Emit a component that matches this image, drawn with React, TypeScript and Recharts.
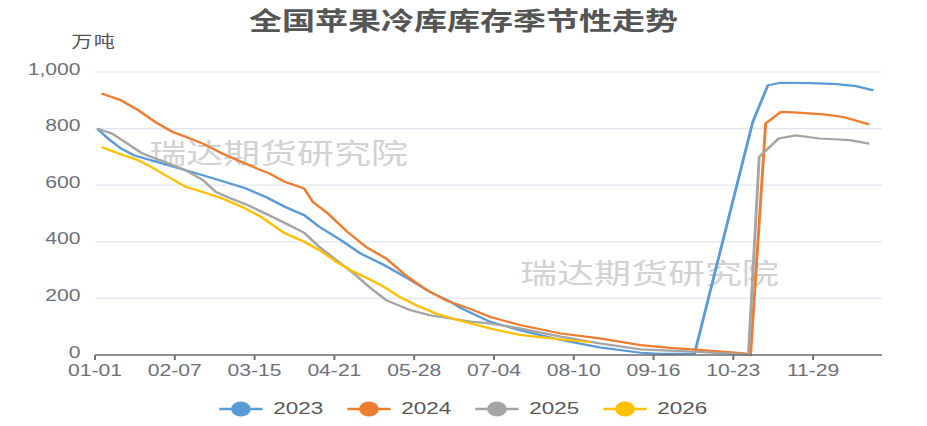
import { LineChart, Line, XAxis, YAxis, CartesianGrid } from "recharts";

// the reference image is stretched horizontally, so the chart is drawn narrow and scaled
const STRETCH = 1.32;
const W = 927 / STRETCH;
const H = 426;

const TICK_DAYS = [0, 37, 74, 111, 148, 185, 222, 259, 296, 333];
const TICK_LABELS = ["01-01", "02-07", "03-15", "04-21", "05-28", "07-04", "08-10", "09-16", "10-23", "11-29"];
const Y_TICKS = [0, 200, 400, 600, 800, 1000];

const DAYS_2023 = [1, 6, 12, 18, 26, 34, 42, 50, 60, 70, 79, 88, 97, 104, 114, 123, 134, 145, 155, 165, 169, 174, 183, 197, 216, 234, 253, 262, 278, 305, 312, 318, 332, 344, 353, 361];
const VALUES_2023 = [800, 765, 730, 706, 688, 671, 653, 635, 612, 588, 559, 524, 494, 453, 406, 359, 318, 271, 224, 188, 168, 150, 118, 88, 53, 27, 8, 4, 5, 823, 953, 962, 961, 957, 950, 935];

const DAYS_2024 = [3, 12, 20, 28, 36, 42, 50, 59, 68, 77, 81, 88, 97, 101, 108, 117, 126, 135, 145, 154, 163, 169, 174, 183, 197, 216, 234, 253, 268, 277, 301, 304, 311, 318, 324, 338, 347, 359];
const VALUES_2024 = [924, 900, 865, 823, 788, 771, 747, 712, 682, 653, 641, 612, 588, 541, 500, 435, 380, 341, 276, 229, 192, 176, 163, 135, 106, 76, 59, 35, 24, 20, 6, 1, 818, 859, 857, 850, 841, 815];

const DAYS_2025 = [1, 8, 15, 22, 28, 36, 42, 50, 56, 63, 71, 79, 89, 97, 104, 112, 120, 128, 135, 146, 155, 165, 169, 174, 183, 197, 216, 234, 253, 277, 301, 303, 308, 317, 325, 336, 350, 359];
const VALUES_2025 = [800, 782, 747, 712, 694, 671, 653, 618, 576, 553, 529, 500, 463, 432, 382, 335, 288, 235, 194, 159, 141, 129, 124, 118, 112, 94, 65, 41, 20, 12, 2, 0, 700, 765, 776, 765, 759, 747];

const DAYS_2026 = [3, 11, 20, 26, 34, 42, 50, 59, 68, 77, 88, 97, 104, 112, 120, 128, 134, 141, 149, 158, 168, 174, 183, 197, 216, 230];
const VALUES_2026 = [735, 712, 688, 665, 629, 594, 576, 553, 524, 488, 430, 400, 371, 329, 294, 265, 241, 206, 176, 147, 124, 112, 94, 71, 55, 45];

const SERIES = [
  { name: "2023", color: "#5B9BD5", days: DAYS_2023, values: VALUES_2023 },
  { name: "2024", color: "#ED7D31", days: DAYS_2024, values: VALUES_2024 },
  { name: "2025", color: "#A5A5A5", days: DAYS_2025, values: VALUES_2025 },
  { name: "2026", color: "#FFC000", days: DAYS_2026, values: VALUES_2026 },
];

const WATERMARK = "瑞达期货研究院";

const YTick = ({ x, y, payload }: any) => (
  <text x={x} y={y - 3} textAnchor="end" dominantBaseline="central" fill="#6e7079" fontSize={16}>
    {Number(payload.value).toLocaleString("en-US")}
  </text>
);

const watermarkStyle = {
  position: "absolute" as const,
  fontSize: 28,
  lineHeight: "34px",
  color: "#d2d2d2",
  fontFamily: "'Noto Sans CJK SC', sans-serif",
  whiteSpace: "nowrap" as const,
};

export default function App() {
  return (
    <div
      style={{
        position: "absolute",
        left: 0,
        top: 0,
        width: 927,
        height: H,
        overflow: "hidden",
        background: "#fff",
      }}
    >
      <div
        style={{
          position: "relative",
          width: W,
          height: H,
          transform: `scaleX(${STRETCH})`,
          transformOrigin: "0 0",
          fontFamily: "'Liberation Sans', Arial, 'Noto Sans CJK SC', sans-serif",
        }}
      >
        <div
          style={{
            position: "absolute",
            top: 4,
            left: 0,
            width: W,
            textAlign: "center",
            fontSize: 25,
            lineHeight: "30px",
            fontWeight: "bold",
            color: "#555",
            fontFamily: "'Noto Sans CJK SC', sans-serif",
          }}
        >
          全国苹果冷库库存季节性走势
        </div>
        <div
          style={{
            position: "absolute",
            top: 30,
            left: 54,
            fontSize: 16,
            lineHeight: "20px",
            color: "#555",
            letterSpacing: 1,
            fontFamily: "'Noto Sans CJK SC', sans-serif",
          }}
        >
          万吨
        </div>

        <div style={{ ...watermarkStyle, top: 135, left: 113 }}>{WATERMARK}</div>
        <div style={{ ...watermarkStyle, top: 255, left: 394 }}>{WATERMARK}</div>

        <div style={{ position: "absolute", left: 0, top: 0 }}>
          <LineChart width={W} height={H} margin={{ top: 72, right: 34, bottom: 41, left: 12 }}>
            <CartesianGrid vertical={false} stroke="#e0e6f1" strokeWidth={1.2} />
            <XAxis
              type="number"
              dataKey="day"
              domain={[0, 365]}
              ticks={TICK_DAYS}
              tickFormatter={(v) => TICK_LABELS[TICK_DAYS.indexOf(v)] ?? ""}
              height={30}
              stroke="#6e7079"
              strokeWidth={1.5}
              tick={{ fill: "#6e7079", fontSize: 16 }}
              tickSize={5}
              tickMargin={5}
              interval={0}
            />
            <YAxis
              type="number"
              domain={[0, 1000]}
              ticks={Y_TICKS}
              width={60}
              axisLine={false}
              tickLine={false}
              tickSize={0}
              tickMargin={11}
              tick={<YTick />}
            />
            {SERIES.map((s) => (
              <Line
                key={s.name}
                name={s.name}
                data={s.days.map((d, i) => ({ day: d, value: s.values[i] }))}
                dataKey="value"
                type="linear"
                stroke={s.color}
                strokeWidth={2.2}
                dot={false}
                isAnimationActive={false}
              />
            ))}
          </LineChart>
        </div>

        <div
          style={{
            position: "absolute",
            left: 166,
            top: 399,
            display: "flex",
            alignItems: "center",
          }}
        >
          {SERIES.map((s) => (
            <div key={s.name} style={{ width: 97, display: "flex", alignItems: "center" }}>
              <svg width={33} height={18}>
                <line x1={0} y1={9} x2={33} y2={9} stroke={s.color} strokeWidth={2.5} />
                <circle cx={16.5} cy={9} r={7.5} fill={s.color} />
              </svg>
              <span style={{ marginLeft: 8, fontSize: 17, lineHeight: "20px", color: "#595959" }}>
                {s.name}
              </span>
            </div>
          ))}
        </div>
      </div>
    </div>
  );
}
